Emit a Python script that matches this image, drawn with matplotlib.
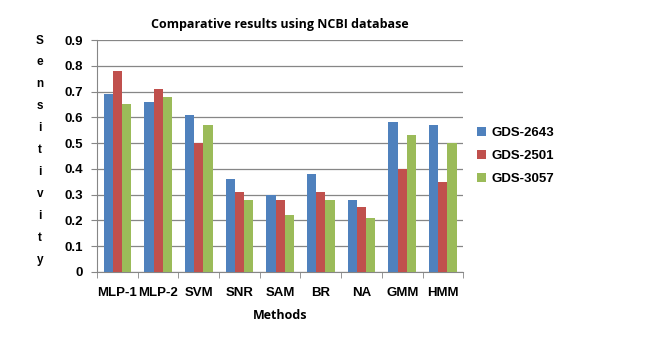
import numpy as np
import matplotlib.pyplot as plt

methods = ["MLP-1", "MLP-2", "SVM", "SNR", "SAM", "BR", "NA", "GMM", "HMM"]
gds_2643 = [0.69, 0.66, 0.61, 0.36, 0.30, 0.38, 0.28, 0.58, 0.57]
gds_2501 = [0.78, 0.71, 0.50, 0.31, 0.28, 0.31, 0.25, 0.40, 0.35]
gds_3057 = [0.65, 0.68, 0.57, 0.28, 0.22, 0.28, 0.21, 0.53, 0.50]
series_names = ["GDS-2643", "GDS-2501", "GDS-3057"]
colors = ["#4F81BD", "#C0504D", "#9BBB59"]

plt.rcParams['font.family'] = ['Liberation Sans', 'DejaVu Sans']

fig = plt.figure(figsize=(6.47, 3.39), dpi=100)
ax = fig.add_axes([0.150, 0.198, 0.566, 0.684])

x = np.arange(len(methods))
w = 0.225
for k, (vals, name, c) in enumerate(zip([gds_2643, gds_2501, gds_3057], series_names, colors)):
    ax.bar(x + (k - 1) * w, vals, width=w, color=c, label=name, zorder=3)

ax.set_xlim(-0.5, len(methods) - 0.5)
ax.set_ylim(0, 0.9)
ax.set_yticks(np.arange(0, 0.91, 0.1))
ax.set_yticklabels(["0"] + [f"{v:.1f}" for v in np.arange(0.1, 0.91, 0.1)],
                   fontsize=9.5, fontweight="bold")
ax.set_xticks(x)
ax.set_xticklabels(methods, fontsize=9.5, fontweight="bold")
ax.set_xticks(np.arange(-0.5, len(methods), 1), minor=True)
ax.tick_params(axis="x", which="major", length=0, pad=11)
ax.tick_params(axis="x", which="minor", length=4, color="#868686")
ax.tick_params(axis="y", length=4, color="#868686", pad=6)

ax.yaxis.grid(True, color="#868686", linewidth=0.9, zorder=0)
for s in ["top", "right"]:
    ax.spines[s].set_visible(False)
for s in ["left", "bottom"]:
    ax.spines[s].set_color("#868686")

ax.set_title("Comparative results using NCBI database", fontsize=9,
             fontweight="bold", family=["Open Sans", "DejaVu Sans"], pad=9)
ax.set_xlabel("Methods", fontsize=9, fontweight="bold",
              family=["Open Sans", "DejaVu Sans"], labelpad=7)

fig.text(40 / 647, 1 - 150 / 339, "\n".join("Sensitivity"), ha="center", va="center",
         fontsize=8.5, fontweight="bold", linespacing=2.1)

ax.legend(loc="center left", bbox_to_anchor=(1.005, 0.5), frameon=False,
          prop={"weight": "bold", "size": 9.5},
          handlelength=0.7, handleheight=0.7, handletextpad=0.4, labelspacing=0.8)

fig.savefig("out.png", dpi=100)
